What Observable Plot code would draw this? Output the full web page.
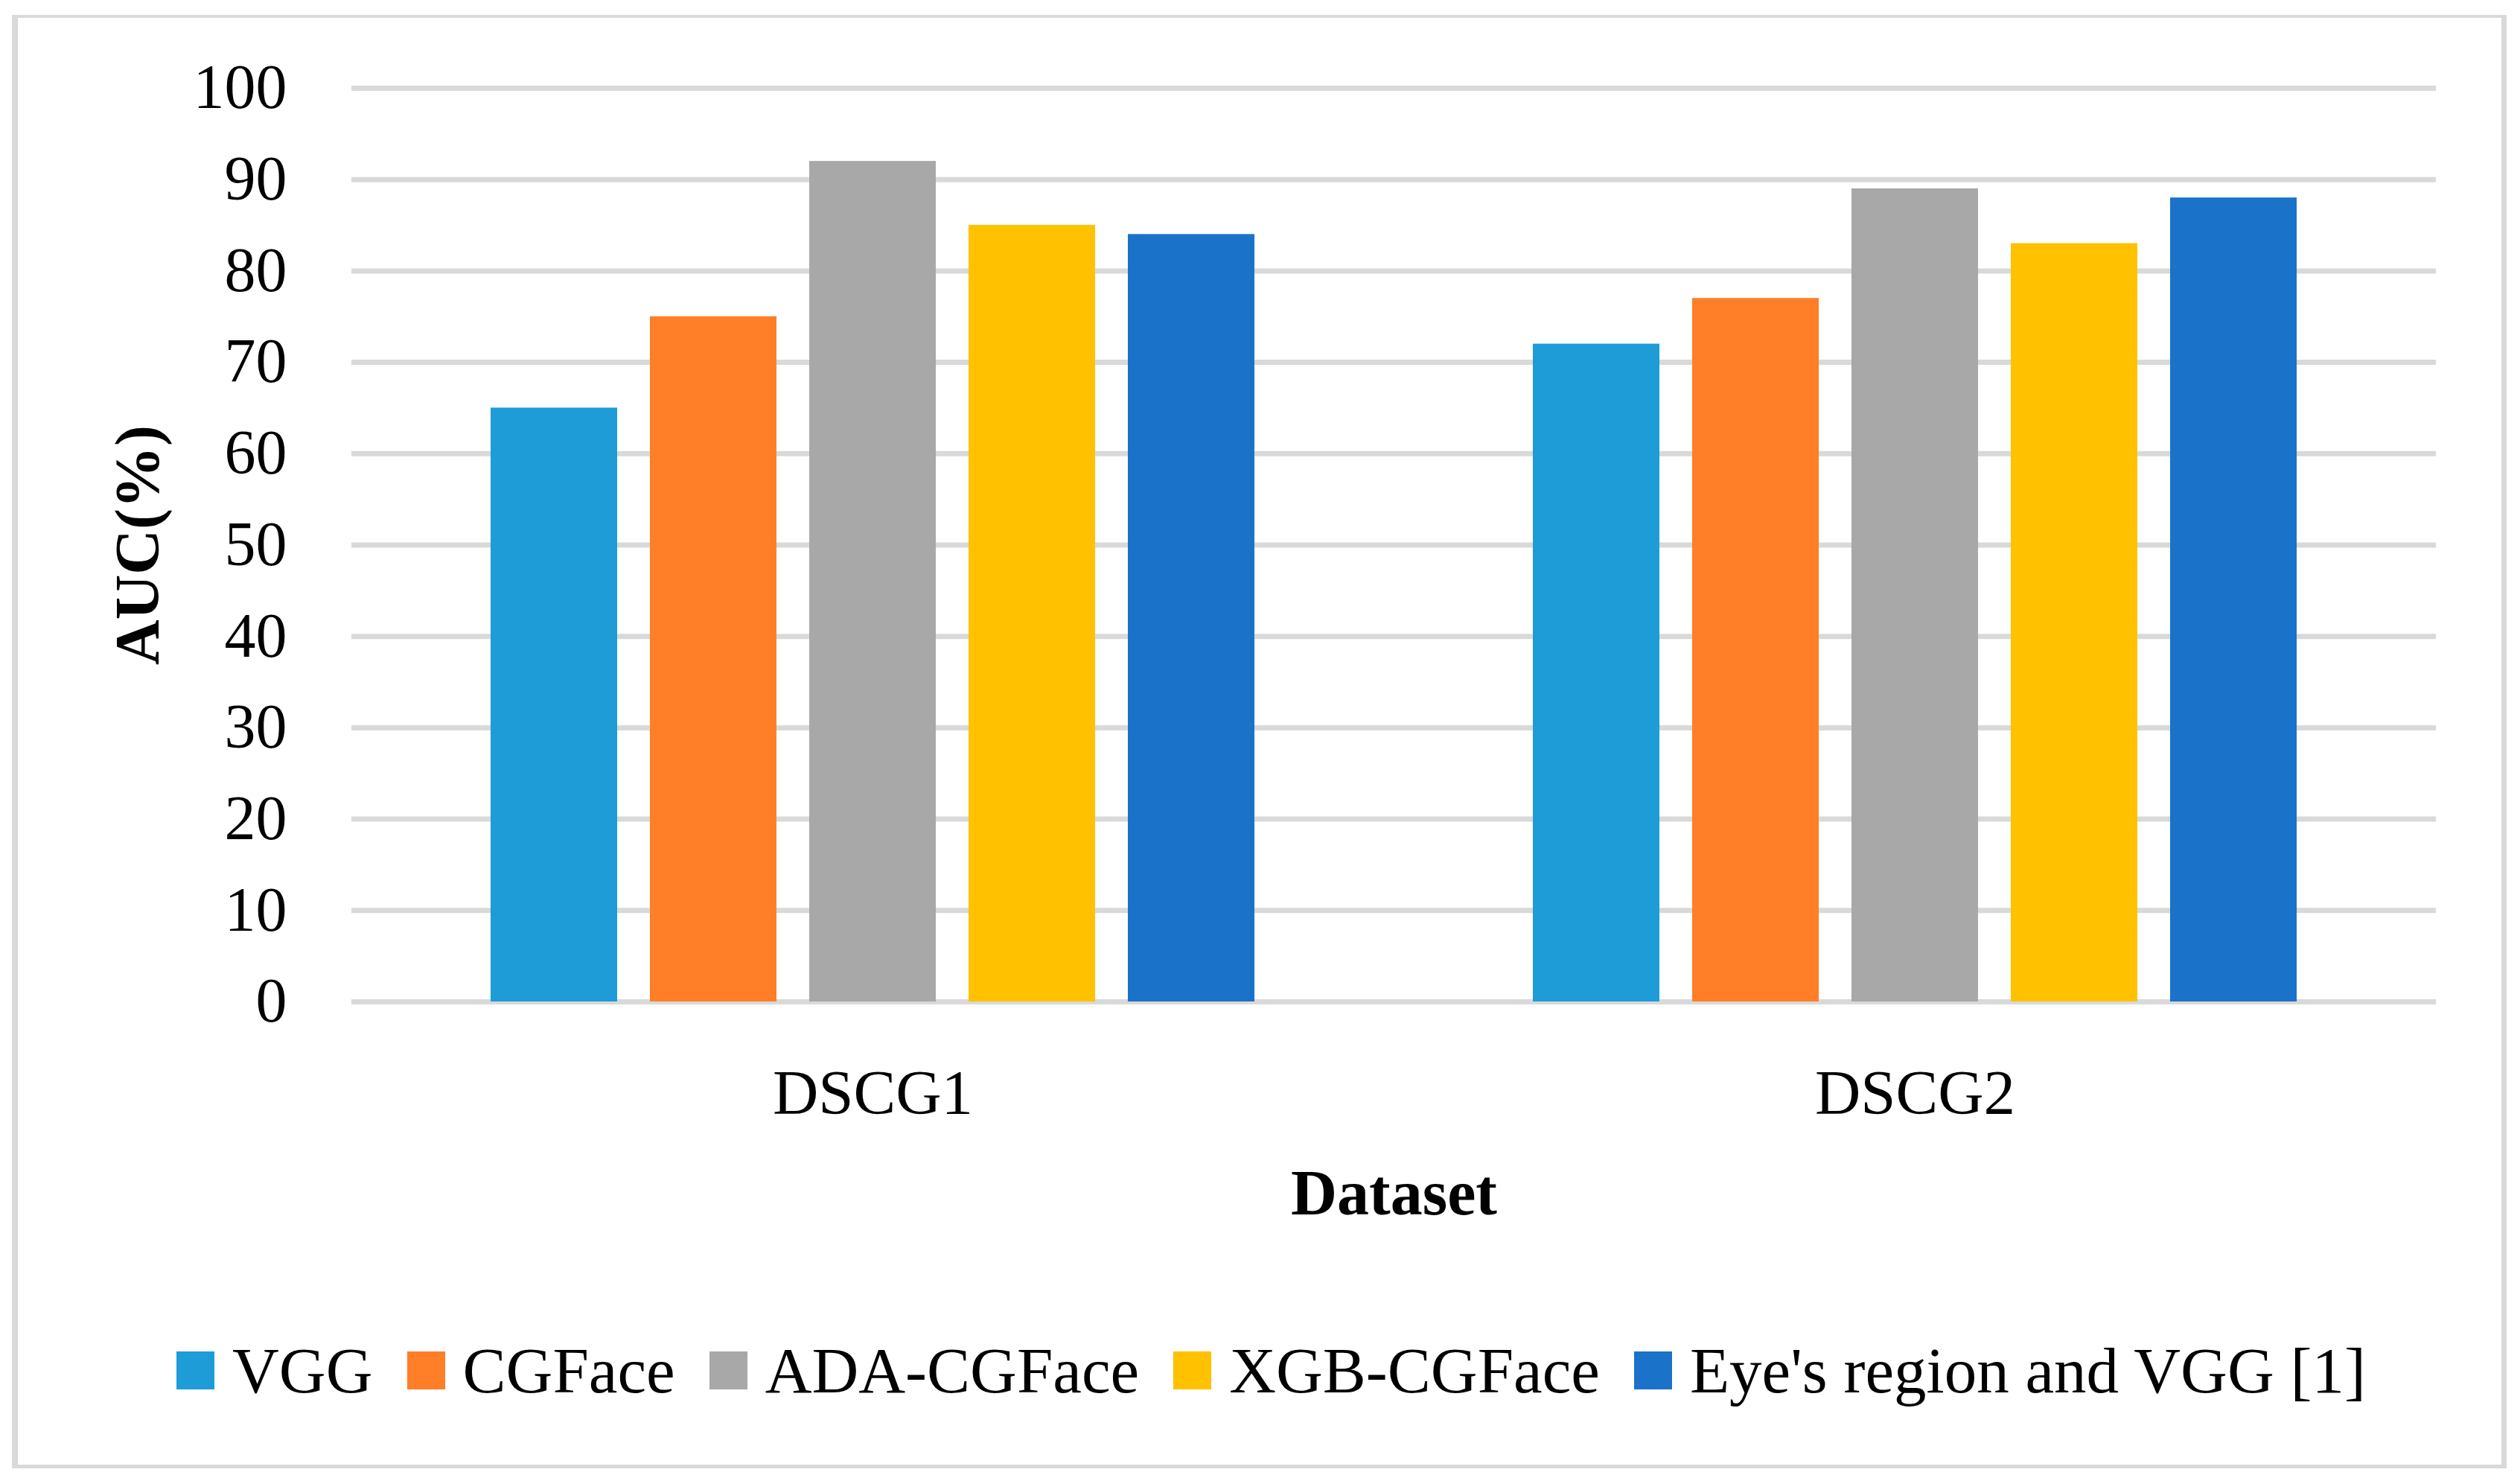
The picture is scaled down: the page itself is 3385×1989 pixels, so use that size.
<!DOCTYPE html>
<html><head><meta charset="utf-8">
<script src="https://cdn.jsdelivr.net/npm/d3@7"></script>
<script src="https://cdn.jsdelivr.net/npm/@observablehq/plot@0.6"></script>
<style>
html,body{margin:0;padding:0;background:#fff;}
body{width:3385px;height:1989px;position:relative;overflow:hidden;font-family:"Liberation Serif",serif;color:#000;}
#frame{position:absolute;left:16px;top:20px;width:3351px;height:1952px;box-sizing:border-box;border-style:solid;border-color:#d9d9d9;border-width:4px 7px 5px 8px;}
#chart{position:absolute;left:0;top:0;}
#legend{position:absolute;left:0;top:1797px;width:3385px;display:flex;justify-content:center;align-items:center;padding-left:30px;box-sizing:border-box;font-size:87px;line-height:1;white-space:nowrap;}
.item{display:flex;align-items:center;margin:0 23px;}
.sw{width:51px;height:51px;margin-right:24px;flex:none;}
</style></head>
<body>
<div id="frame"></div>
<div id="chart"></div>
<div id="legend"></div>
<script>
const datasets = ["DSCG1", "DSCG2"];
const methods = ["VGG", "CGFace", "ADA-CGFace", "XGB-CGFace", "Eye's region and VGG [1]"];
const colors = ["#1e9cd8", "#ff7e27", "#a8a8a8", "#ffc100", "#1a73c9"];
const dscg1 = [65, 75, 92, 85, 84];
const dscg2 = [72, 77, 89, 83, 88];
const yTicks = [0, 10, 20, 30, 40, 50, 60, 70, 80, 90, 100];

const series = {DSCG1: dscg1, DSCG2: dscg2};
const rows = datasets.flatMap(d => methods.map((m, i) => ({dataset: d, method: m, value: series[d][i]})));

const chart = Plot.plot({
  width: 3385, height: 1700,
  marginLeft: 471, marginRight: 113, marginTop: 118, marginBottom: 355,
  style: {fontFamily: "'Liberation Serif', serif", fontSize: "84px", background: "transparent", color: "#000", overflow: "visible"},
  fx: {domain: datasets, paddingInner: 0, paddingOuter: 0},
  x: {domain: methods, paddingInner: 0.205, paddingOuter: 0.86, axis: null},
  y: {domain: [0, 100]},
  color: {domain: methods, range: colors},
  marks: [
    Plot.gridY(yTicks, {stroke: "#d9d9d9", strokeOpacity: 1, strokeWidth: 7}),
    Plot.barY(rows, {fx: "dataset", x: "method", y: "value", fill: "method"}),
    Plot.axisY(yTicks, {tickSize: 0, tickPadding: 87, label: null, fontSize: 84}),
    Plot.axisY({ticks: [], label: "AUC(%)", labelAnchor: "center", labelArrow: false, labelOffset: 319, fontWeight: "bold", fontSize: 84}),
    Plot.axisFx({anchor: "bottom", tickSize: 0, tickPadding: 90, label: null, fontSize: 85}),
    Plot.axisFx({anchor: "bottom", ticks: [], label: "Dataset", labelAnchor: "center", labelArrow: false, labelOffset: 285, fontWeight: "bold", fontSize: 86})
  ]
});
document.getElementById("chart").appendChild(chart);

const legend = document.getElementById("legend");
methods.forEach((m, i) => {
  const item = document.createElement("div");
  item.className = "item";
  const sw = document.createElement("div");
  sw.className = "sw";
  sw.style.background = colors[i];
  const t = document.createElement("span");
  t.textContent = m;
  item.appendChild(sw);
  item.appendChild(t);
  legend.appendChild(item);
});
</script>
</body></html>
